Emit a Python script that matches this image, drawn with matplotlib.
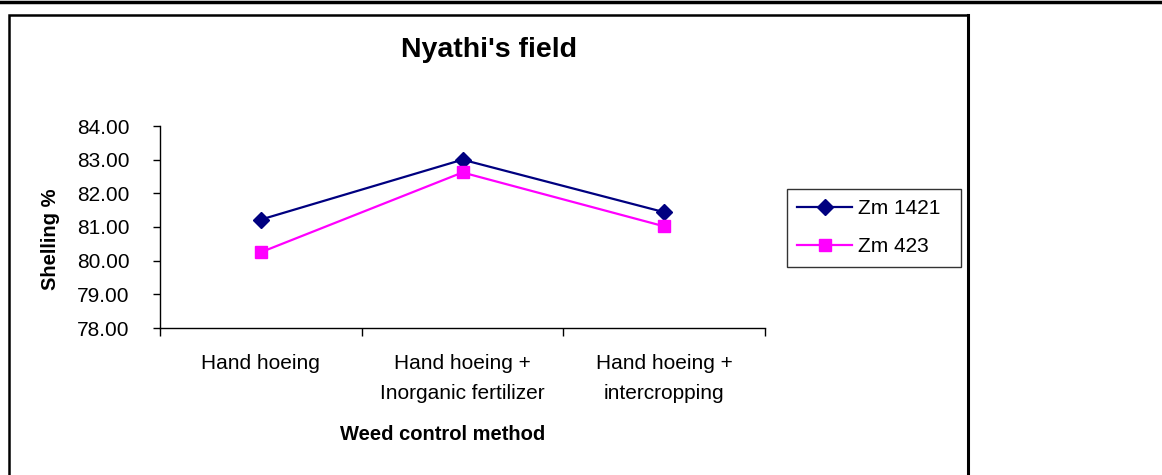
import matplotlib.pyplot as plt
from matplotlib.lines import Line2D
from matplotlib.patches import Rectangle

plt.rcParams['font.family'] = ['Liberation Sans', 'DejaVu Sans']

# Data
methods = ["Hand hoeing", "Hand hoeing +\nInorganic fertilizer", "Hand hoeing +\nintercropping"]
zm1421 = [81.22, 83.00, 81.44]
zm423 = [80.25, 82.62, 81.02]
yticks = [78, 79, 80, 81, 82, 83, 84]

W, H = 1162, 475
fig = plt.figure(figsize=(W / 100, H / 100), dpi=100)

# outer frame: thick rule at top, chart box
fig.add_artist(Line2D([0, 1], [1 - 1.5 / H, 1 - 1.5 / H], color="black", lw=2.5,
                      transform=fig.transFigure))
fig.add_artist(Rectangle((9 / W, -0.1), (968 - 9) / W, 1.1 - 15 / H, fill=False,
                         edgecolor="black", lw=1.8, transform=fig.transFigure))
fig.add_artist(Line2D([968 / W, 968 / W], [0, 1 - 15 / H], color="black", lw=2.2,
                      transform=fig.transFigure))

ax = fig.add_axes([160 / W, 1 - 328 / H, (765 - 160) / W, (328 - 126) / H])
x = range(len(methods))
ax.plot(x, zm1421, color="#000080", lw=1.6, marker="D", markersize=8.5, label="Zm 1421")
ax.plot(x, zm423, color="#FF00FF", lw=1.6, marker="s", markersize=9, label="Zm 423")

ax.set_xlim(-0.5, 2.5)
ax.set_ylim(78, 84)
ax.set_yticks(yticks)
ax.set_yticklabels([f"{v:.2f}" for v in yticks], fontsize=15)
ax.tick_params(axis="y", direction="out", length=5, width=1, pad=17)

ax.set_xticks([-0.5, 0.5, 1.5, 2.5])
ax.set_xticklabels([])
ax.tick_params(axis="x", which="major", direction="out", length=6, width=1)
ax.set_xticks(list(x), minor=True)
ax.set_xticklabels(methods, minor=True, fontsize=15)
for lbl in ax.get_xticklabels(minor=True):
    lbl.set_linespacing(1.7)
ax.tick_params(axis="x", which="minor", length=0, pad=19)

for s in ["top", "right"]:
    ax.spines[s].set_visible(False)
ax.spines["left"].set_linewidth(1)
ax.spines["bottom"].set_linewidth(1)

fig.text(489 / W, 1 - 50 / H, "Nyathi's field", fontsize=20.5, fontweight="bold",
         ha="center", va="center")
fig.text(50 / W, 1 - 239 / H, "Shelling %", fontsize=14.5, fontweight="bold",
         rotation=90, ha="center", va="center")
fig.text(443 / W, 1 - 434 / H, "Weed control method", fontsize=14.5, fontweight="bold",
         ha="center", va="center")

leg = fig.legend(loc="upper left", mode="expand",
                 bbox_to_anchor=(787 / W, 1 - 265 / H, (961 - 787) / W, (265 - 189) / H),
                 fontsize=15, frameon=True, fancybox=False, borderpad=0.5,
                 handlelength=2.6, handletextpad=0.3, labelspacing=0.9, borderaxespad=0)
leg.get_frame().set_edgecolor("black")
leg.get_frame().set_linewidth(1)

fig.savefig("out.png", dpi=100)
